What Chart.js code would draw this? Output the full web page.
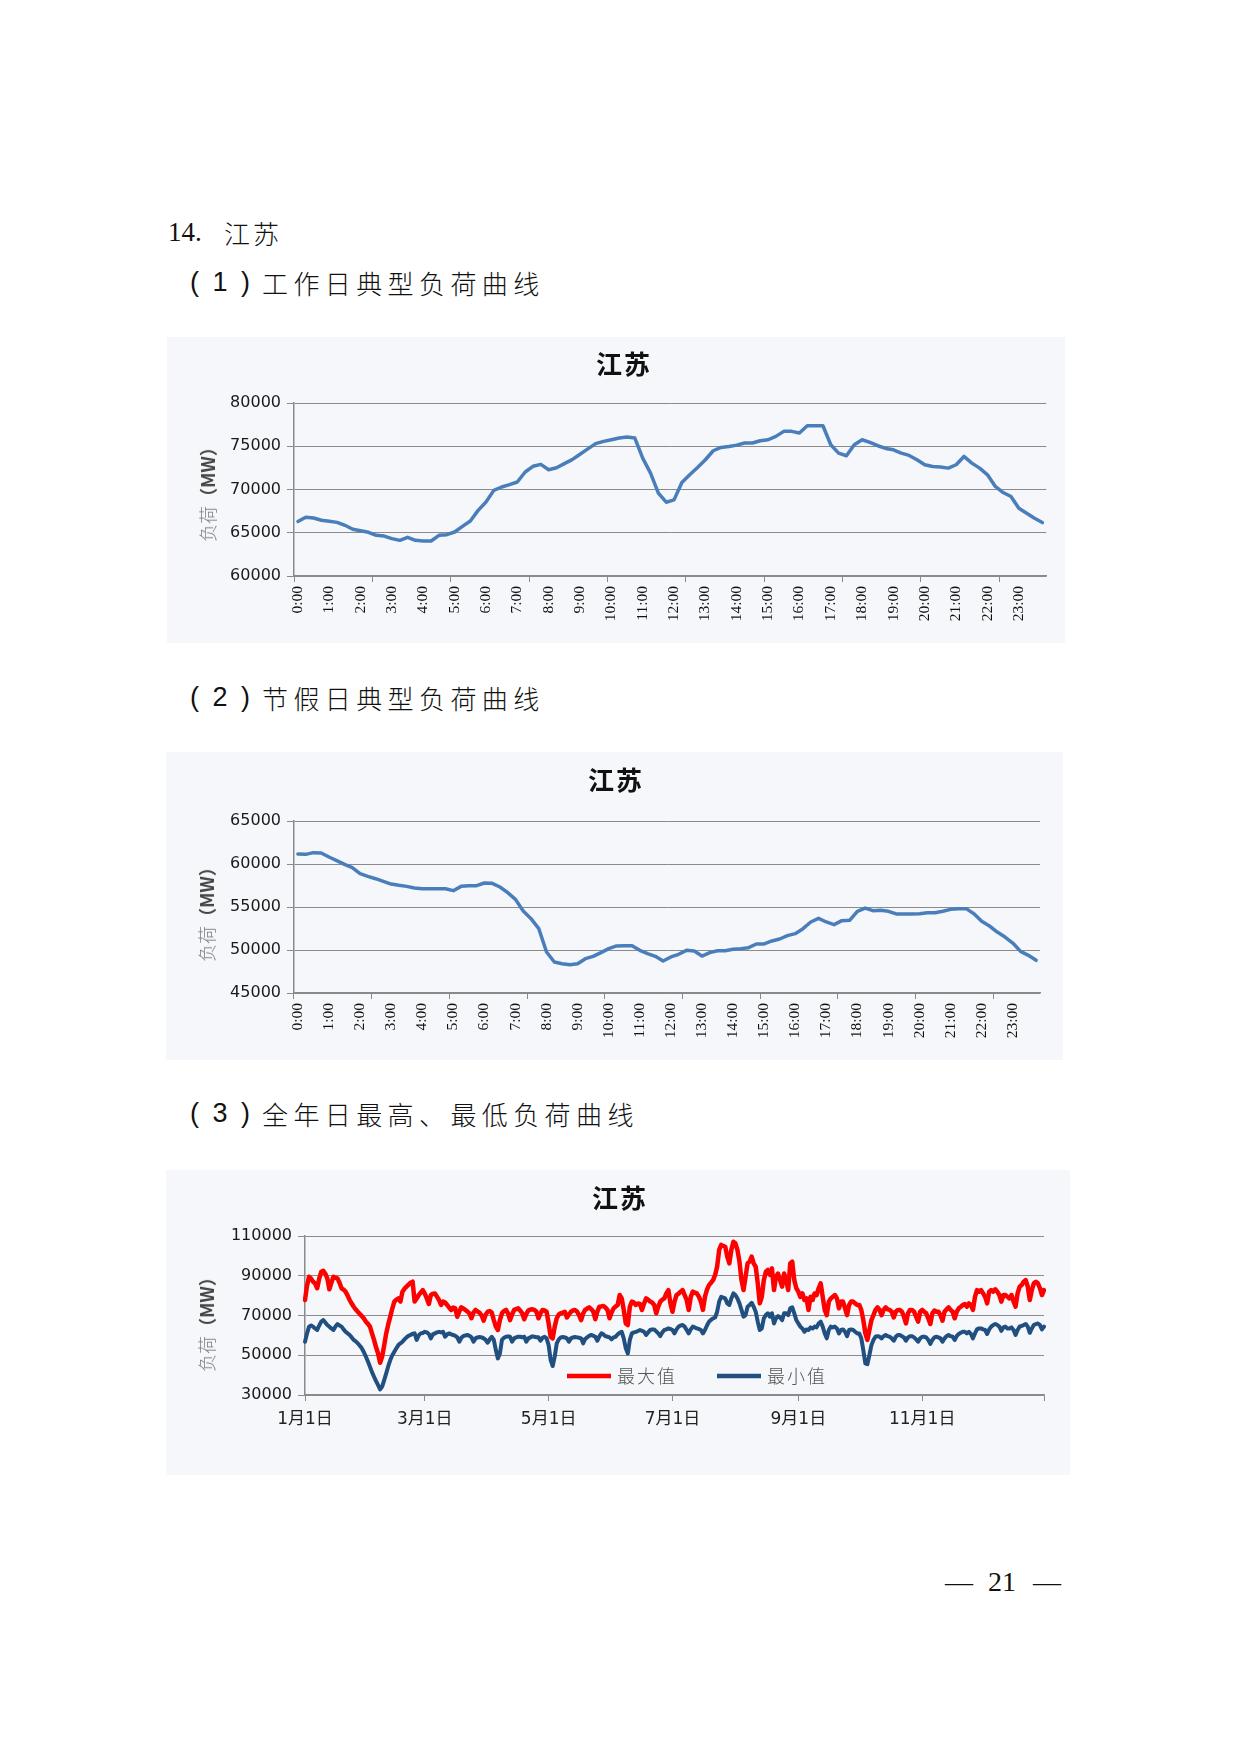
<!DOCTYPE html>
<html lang="zh-CN">
<head>
<meta charset="UTF-8">
<title>江苏 负荷曲线</title>
<script src="https://cdn.jsdelivr.net/npm/chart.js"></script>
<style>
  body { margin: 0; background: #fff; }
  .page { position: relative; width: 1240px; height: 1754px; background: #fff; overflow: hidden; color: #111; }
  .abs { position: absolute; white-space: nowrap; line-height: 1; }
  .panel { position: absolute; background: #f5f7fa; }
  .panel canvas { position: absolute; left: 0; top: 0; }
  .num { font-family: "Liberation Serif", serif; font-size: 27px; }
  .paren { font-family: "Liberation Sans", sans-serif; font-size: 27px; letter-spacing: 3px; }
  .cn { font-family: "Noto Sans CJK SC", sans-serif; font-weight: 300; font-size: 26px; letter-spacing: 5.4px; }
  .ctitle { font-family: "Noto Sans CJK SC", sans-serif; font-weight: 700; font-size: 26px; letter-spacing: 2px; transform: translate(-50%, -50%); }
  .ytitle { font-family: "Noto Sans CJK SC", sans-serif; font-size: 18px; transform: translate(-50%, -50%) rotate(-90deg); }
  .ytitle .g { color: #7a7a7a; font-weight: 300; }
  .ytitle .b { color: #444; font-weight: 700; }
</style>
</head>
<body>
<div class="page">
  <!-- headings -->
  <div class="abs num" style="left:168px; top:219px;">14.</div>
  <div class="abs cn" style="left:224px; top:220px; letter-spacing:3px;">江苏</div>

  <div class="abs paren" style="left:190px; top:269px;">(&nbsp;1&nbsp;)</div>
  <div class="abs cn" style="left:262px; top:270px;">工作日典型负荷曲线</div>

  <div class="abs paren" style="left:190px; top:684px;">(&nbsp;2&nbsp;)</div>
  <div class="abs cn" style="left:262px; top:685px;">节假日典型负荷曲线</div>

  <div class="abs paren" style="left:190px; top:1100px;">(&nbsp;3&nbsp;)</div>
  <div class="abs cn" style="left:262px; top:1101px;">全年日最高、最低负荷曲线</div>

  <!-- chart panels -->
  <div class="panel" style="left:167px; top:337px; width:898px; height:306px;">
    <canvas id="workday" width="898" height="306"></canvas>
  </div>
  <div class="abs ctitle" style="left:624px; top:363px;">江苏</div>
  <div class="abs ytitle" style="left:207px; top:490px;"><span class="g">负荷</span><span class="b">（MW）</span></div>

  <div class="panel" style="left:166px; top:752px; width:897px; height:308px;">
    <canvas id="holiday" width="897" height="308"></canvas>
  </div>
  <div class="abs ctitle" style="left:616px; top:779px;">江苏</div>
  <div class="abs ytitle" style="left:206px; top:910px;"><span class="g">负荷</span><span class="b">（MW）</span></div>

  <div class="panel" style="left:166px; top:1170px; width:904px; height:305px;">
    <canvas id="yearly" width="904" height="305"></canvas>
  </div>
  <div class="abs ctitle" style="left:620px; top:1197px;">江苏</div>
  <div class="abs ytitle" style="left:206px; top:1320px;"><span class="g">负荷</span><span class="b">（MW）</span></div>

  <!-- page number -->
  <div class="abs num" style="left:945px; top:1568px; font-size:28px;">—</div>
  <div class="abs num" style="left:988px; top:1568px; font-size:28px;">21</div>
  <div class="abs num" style="left:1033px; top:1568px; font-size:28px;">—</div>
</div>

<script>
  // ---- data (MW) ----
  const hourLabels = ['0:00','1:00','2:00','3:00','4:00','5:00','6:00','7:00','8:00','9:00','10:00','11:00',
    '12:00','13:00','14:00','15:00','16:00','17:00','18:00','19:00','20:00','21:00','22:00','23:00'];

  // 96 points, every 15 minutes
  const workdayLoad = [
    66300,66800,66700,66440,66320,66200,65860,65400,65240,65050,
    64700,64620,64320,64120,64470,64120,64050,64050,64700,64780,
    65090,65740,66360,67590,68560,69900,70290,70560,70870,72020,
    72680,72910,72290,72520,72990,73450,74070,74700,75300,75560,
    75750,75950,76060,75950,73630,71890,69580,68530,68800,70810,
    71700,72550,73440,74480,74860,74980,75130,75370,75370,75640,
    75750,76140,76720,76720,76530,77370,77370,77370,75170,74210,
    73900,75170,75750,75440,75060,74750,74590,74210,73940,73440,
    72860,72660,72590,72470,72860,73820,73050,72470,71700,70350,
    69650,69190,67840,67260,66680,66180
  ];

  const holidayLoad = [
    61160,61120,61320,61280,60810,60390,59960,59570,58880,58570,
    58290,57980,57670,57520,57400,57210,57130,57130,57130,57130,
    56900,57400,57480,57480,57790,57750,57330,56670,55890,54530,
    53640,52480,49770,48600,48410,48290,48410,48990,49260,49690,
    50160,50470,50500,50500,49960,49570,49260,48720,49190,49500,
    49960,49880,49300,49690,49920,49920,50080,50160,50270,50700,
    50700,51050,51280,51670,51900,52480,53260,53680,53260,52950,
    53410,53450,54500,54880,54570,54610,54500,54190,54190,54190,
    54220,54340,54340,54500,54730,54810,54810,54220,53330,52790,
    52090,51510,50810,49840,49380,48800
  ];

  // 365 days, daily maximum load
  const dailyMax = [
    77800,85000,89500,88500,87000,86000,83700,88500,92000,92500,
    91000,88700,83200,86500,89500,89000,88700,86500,83700,83000,
    82000,80000,77800,76000,74400,73000,71900,70800,69700,68500,
    66900,65800,64400,61000,57700,54000,50900,46200,49300,55000,
    61000,65500,69400,73500,77000,78000,78600,77000,82000,83500,
    84500,85500,86500,87000,77000,78500,80300,81500,82800,81000,
    78600,75800,80300,81000,81100,79500,77800,75300,77000,76500,
    75300,74000,72800,74000,73600,69400,72000,74100,73500,72800,
    72000,71100,68600,71500,72800,72000,71400,70000,67400,70500,
    71900,72200,71500,67700,64400,62700,67700,71100,72300,72800,
    71100,67700,70500,72800,73200,73600,72500,71100,68100,70800,
    72500,73000,73100,72800,71900,68600,71000,72800,72500,71900,
    66000,59300,58500,64400,68600,70500,71100,71500,71900,69000,
    70500,71900,72500,72800,72000,70200,67700,71000,72800,73500,
    74100,73200,71900,68100,72000,74400,74600,74800,74000,72800,
    68600,71500,73600,74500,75300,80300,78600,72800,66000,65200,
    74400,77000,76500,75300,76000,75800,72800,76000,78600,78000,
    77000,76500,75300,71100,74500,77000,78000,78600,81100,82800,
    76100,71900,77000,80300,81000,82000,82800,80300,77800,72800,
    79400,82000,81500,81100,79500,77000,72800,79400,83000,85300,
    86500,87800,90400,94600,103000,105500,105000,104600,99600,96200,
    103000,107100,106300,103000,97100,87800,82800,89500,96200,97100,
    99600,96200,94600,86200,76100,79400,87800,92000,92900,90400,
    93700,82800,89500,91100,87800,84500,91100,87800,82800,96200,
    97100,87800,83700,82000,79400,81100,77800,78600,72800,79400,
    77800,81100,80300,83700,86200,79400,72800,70200,77000,78600,
    79400,80300,78600,73600,77000,77000,73600,70200,75300,77000,
    77000,76100,75300,75300,72800,67700,61000,57700,62700,67700,
    70200,72800,74100,72800,70200,72800,74100,73100,72800,71900,
    69000,71900,72800,72800,71900,69400,66000,71100,72800,72800,
    71900,69400,66900,71900,72800,71900,71100,68600,65700,71100,
    72500,71900,71900,70200,67400,71900,73100,74100,72800,71900,
    68600,71900,73600,74400,75300,75800,74400,76100,75300,72800,
    79400,82800,82000,82800,81100,79400,76100,82000,82800,82000,
    83200,82000,80300,77000,80300,80300,79400,78600,80300,77000,
    74400,81100,84500,85300,87000,87800,84500,77800,82800,86200,
    87000,86200,83700,80300,82800
  ];

  // 365 days, daily minimum load
  const dailyMin = [
    56800,61000,64400,65000,64400,63500,62700,65000,66900,67700,
    66500,65200,64400,63500,62700,64500,65700,65000,64400,63000,
    61800,61000,60200,59000,57700,57000,56000,54800,53500,51500,
    49300,46800,44200,41500,39200,37000,35000,32800,34200,37500,
    40900,44500,47600,50000,51800,53500,55100,56000,56800,58000,
    59000,59800,60200,60800,61000,57700,60000,61000,61200,61800,
    61500,60700,58500,60500,61000,61500,61800,61500,61800,59300,
    60500,61000,60500,60200,59800,59000,56800,58800,59600,60000,
    60200,59800,59000,56800,58500,59000,59200,59000,58500,57700,
    56300,58000,59300,57700,52600,48400,50900,57700,58800,59300,
    59500,59300,56800,58500,59000,59300,59300,59000,59300,56800,
    58500,59000,59500,59300,59000,59000,57300,58800,59300,58500,
    55100,47600,44600,49300,56000,58000,59000,59200,59000,58500,
    56800,58500,59000,59200,59000,58800,58500,56000,58200,59000,
    59800,60200,59800,59300,57300,59500,61000,60500,59600,59300,
    59000,58000,59000,59300,60500,61300,61800,58500,53500,50900,
    57700,61000,61500,61800,62200,62700,62300,61800,60200,61500,
    62700,63000,63000,62000,61000,59600,61500,62700,63000,63500,
    63200,62700,61000,63000,64400,65000,65200,64400,62700,61000,
    63000,64400,64000,63500,63200,62700,61000,62700,65000,66900,
    67800,68600,69000,71900,77000,79400,79000,78600,76100,75300,
    78600,81100,80300,78600,76100,72800,69400,70200,74400,75300,
    76400,74400,71900,66900,62700,63500,68600,70200,71100,69400,
    71100,66000,68600,69700,69000,67700,71100,71100,70200,73600,
    74100,71100,67700,66000,64400,63500,61800,63000,62700,64000,
    63500,64400,64000,66000,66900,64400,61000,58500,62700,64400,
    64000,64400,63500,61000,62700,63000,61800,59600,62700,63000,
    62700,61800,61000,61000,58500,52600,45900,45500,50100,55100,
    57700,59300,59600,59300,58500,59600,60200,59600,59300,58500,
    57300,59300,60200,60200,59600,59000,57300,59000,59600,59600,
    59000,58000,56800,58500,59300,59300,59000,57700,55700,57700,
    59000,59300,59000,58500,56800,58500,59600,60200,59600,59300,
    57700,59600,60700,61300,61800,61800,61000,61800,60700,58500,
    61000,63000,63500,63500,63000,62700,60700,63000,64400,65200,
    65700,65200,64400,62300,64000,64400,63500,63500,64000,62700,
    60200,62700,64400,64800,65200,65700,64400,61300,63500,65200,
    65700,66000,65200,63000,64400
  ];

  const monthDays = [31, 28, 31, 30, 31, 30, 31, 31, 30, 31, 30, 31];
  const monthTicks = ['1月1日', '3月1日', '5月1日', '7月1日', '9月1日', '11月1日'];

  // ---- categories ----
  const quarterSlots = workdayLoad.map((_, i) => i);
  const dayLabels = [];
  monthDays.forEach((n, m) => {
    for (let d = 1; d <= n; d++) dayLabels.push(`${m + 1}月${d}日`);
  });
  const tickIdx = monthTicks.map(t => dayLabels.indexOf(t));

  const GRID = '#8a8a8a';
  const NONE = 'rgba(0,0,0,0)';

  const yAxis = (min, max, step, width) => ({
    min, max,
    ticks: {
      stepSize: step, padding: 6, color: '#1a1a1a',
      font: { family: 'DejaVu Sans', size: 16 },
      callback: v => String(v)
    },
    grid: { color: GRID, lineWidth: 1, tickLength: 7 },
    border: { color: GRID, width: 1.5 },
    afterFit: s => { s.width = width; }
  });

  const hourAxis = (height) => ({
    offset: true,
    ticks: {
      autoSkip: false, minRotation: 90, maxRotation: 90, padding: 4,
      color: '#111', font: { family: 'Liberation Serif', size: 15.5 },
      callback: (v, i) => i % 4 === 0 ? hourLabels[i / 4] : ''
    },
    grid: {
      offset: true, drawOnChartArea: false, tickLength: 6,
      color: c => c.index % 10 === 0 ? GRID : NONE
    },
    border: { color: GRID, width: 1.5 },
    afterFit: s => { s.height = height; }
  });

  const baseOptions = (pad) => ({
    responsive: false,
    animation: false,
    layout: { padding: pad },
    plugins: { legend: { display: false }, tooltip: { enabled: false }, title: { display: false } },
    elements: { point: { radius: 0 }, line: { tension: 0, borderJoinStyle: 'round', borderCapStyle: 'round' } }
  });

  // (1) workday
  new Chart(document.getElementById('workday'), {
    type: 'line',
    data: {
      labels: quarterSlots,
      datasets: [{ label: '负荷', data: workdayLoad, borderColor: '#4a7ebb', borderWidth: 3.5 }]
    },
    options: {
      ...baseOptions({ top: 66, right: 12, left: 0, bottom: 0 }),
      scales: { x: hourAxis(67), y: yAxis(60000, 80000, 5000, 127) }
    }
  });

  // (2) holiday
  new Chart(document.getElementById('holiday'), {
    type: 'line',
    data: {
      labels: quarterSlots,
      datasets: [{ label: '负荷', data: holidayLoad, borderColor: '#4a7ebb', borderWidth: 3.5 }]
    },
    options: {
      ...baseOptions({ top: 69, right: 23, left: 0, bottom: 0 }),
      scales: { x: hourAxis(67), y: yAxis(45000, 65000, 5000, 128) }
    }
  });

  // legend drawn as line samples inside the plot
  const lineLegend = {
    id: 'lineLegend',
    afterDraw(chart, args, opts) {
      const { ctx, chartArea } = chart;
      chart.data.datasets.forEach((ds, k) => {
        const x = chartArea.left + opts.offsets[k];
        const y = chartArea.bottom - opts.fromBottom;
        ctx.save();
        ctx.strokeStyle = ds.borderColor;
        ctx.lineWidth = 4.5;
        ctx.beginPath();
        ctx.moveTo(x, y);
        ctx.lineTo(x + 44, y);
        ctx.stroke();
        ctx.fillStyle = '#555';
        ctx.font = '300 18px "Noto Sans CJK SC"';
        ctx.letterSpacing = '2px';
        ctx.textBaseline = 'middle';
        ctx.fillText(ds.label, x + 50, y);
        ctx.restore();
      });
    }
  };

  // (3) yearly max / min
  new Chart(document.getElementById('yearly'), {
    type: 'line',
    data: {
      labels: dayLabels,
      datasets: [
        { label: '最大值', data: dailyMax, borderColor: '#ff0000', borderWidth: 4.5 },
        { label: '最小值', data: dailyMin, borderColor: '#214f80', borderWidth: 4 }
      ]
    },
    options: {
      ...baseOptions({ top: 66, right: 26, left: 0, bottom: 0 }),
      plugins: {
        legend: { display: false }, tooltip: { enabled: false }, title: { display: false },
        lineLegend: { offsets: [262, 412], fromBottom: 19 }
      },
      scales: {
        x: {
          ticks: {
            autoSkip: false, minRotation: 0, maxRotation: 0, padding: 8,
            color: '#222', font: { family: 'DejaVu Sans, "Noto Sans CJK SC"', size: 17 },
            callback: (v, i) => tickIdx.includes(i) ? dayLabels[i] : ''
          },
          grid: {
            drawOnChartArea: false, tickLength: 6,
            color: c => (tickIdx.includes(c.index) || c.index === dayLabels.length - 1) ? GRID : NONE
          },
          border: { color: GRID, width: 1.5 },
          afterFit: s => { s.height = 80; }
        },
        y: yAxis(30000, 110000, 20000, 139)
      }
    },
    plugins: [lineLegend]
  });
</script>
</body>
</html>
